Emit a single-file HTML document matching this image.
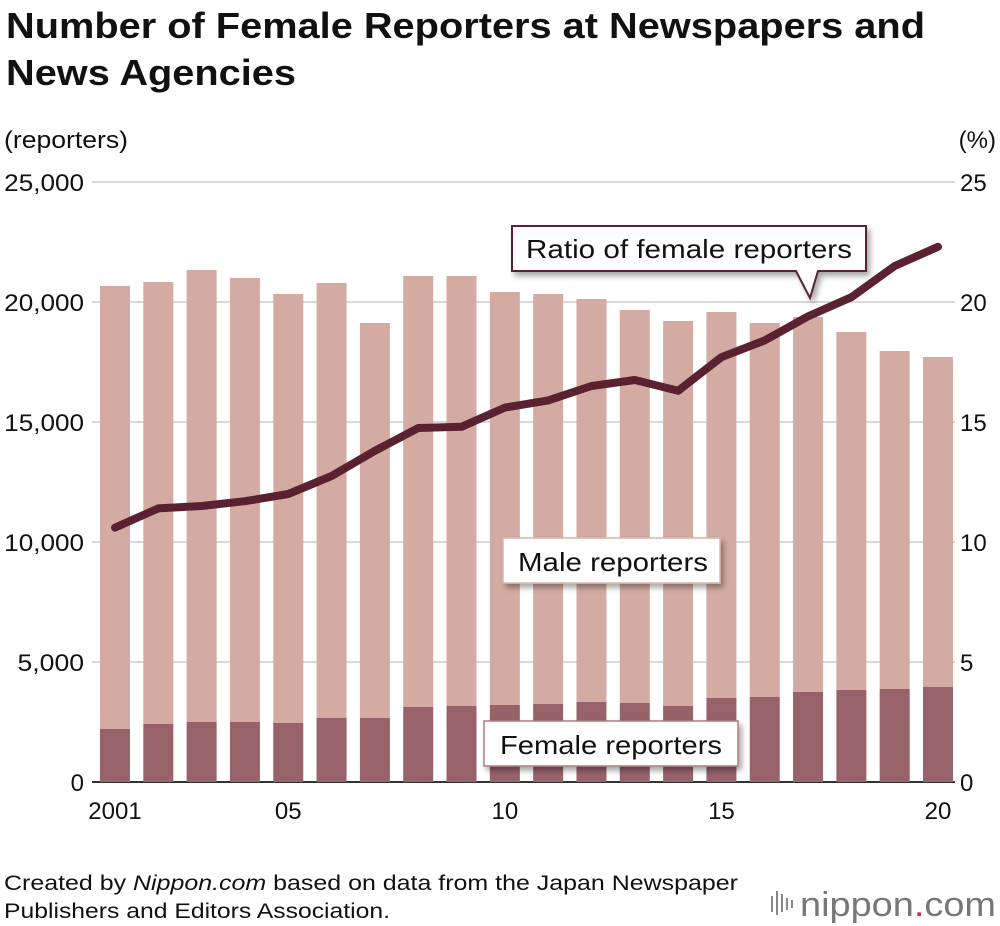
<!DOCTYPE html>
<html><head><meta charset="utf-8"><style>
body{margin:0;background:#fff;font-family:"Liberation Sans",sans-serif;}
#wrap{position:relative;width:1000px;height:926px;overflow:hidden;}
</style></head><body>
<div id="wrap">
<svg id="chart" width="1000" height="926" xmlns="http://www.w3.org/2000/svg">
<defs><filter id="sh" x="-10%" y="-20%" width="130%" height="160%"><feDropShadow dx="3" dy="4" stdDeviation="3" flood-color="#000" flood-opacity="0.35"/></filter></defs>
<text x="6" y="38" font-size="36" font-weight="bold" fill="#111" textLength="919" lengthAdjust="spacingAndGlyphs">Number of Female Reporters at Newspapers and</text>
<text x="6" y="85" font-size="36" font-weight="bold" fill="#111" textLength="290" lengthAdjust="spacingAndGlyphs">News Agencies</text>
<text x="4" y="148" font-size="24" fill="#111" textLength="124" lengthAdjust="spacingAndGlyphs">(reporters)</text>
<text x="996" y="148" font-size="24" fill="#111" text-anchor="end">(%)</text>
<g id="grid"></g><g id="bars"></g><g id="line"></g><g id="axes"></g><g id="labels"></g>
<text x="4" y="890" font-size="21" fill="#111" textLength="734" lengthAdjust="spacingAndGlyphs">Created by <tspan font-style="italic">Nippon.com</tspan> based on data from the Japan Newspaper</text>
<text x="4" y="918" font-size="21" fill="#111" textLength="386" lengthAdjust="spacingAndGlyphs">Publishers and Editors Association.</text>
<g>
<rect x="771" y="896" width="2" height="16" fill="#888"/><rect x="776" y="891" width="2" height="24" fill="#888"/><rect x="781" y="894" width="2" height="18" fill="#888"/><rect x="786" y="898" width="2" height="12" fill="#888"/><rect x="791" y="900" width="2" height="8" fill="#888"/>
<text x="800" y="916" font-size="34" fill="#777" textLength="196" lengthAdjust="spacingAndGlyphs">nippon<tspan fill="#e0262c">.</tspan>com</text></g>
</svg>
</div>
<script>
const years=["2001","2002","2003","2004","2005","2006","2007","2008","2009","2010","2011","2012","2013","2014","2015","2016","2017","2018","2019","2020"];
const totalReporters=[20667,20833,21333,21000,20333,20792,19125,21083,21083,20417,20333,20125,19667,19208,19583,19125,19375,18750,17958,17708];
const femaleReporters=[2208,2417,2500,2500,2458,2667,2667,3125,3167,3208,3250,3333,3292,3167,3500,3542,3750,3833,3875,3958];
const femaleRatio=[10.6,11.4,11.5,11.7,12.0,12.75,13.8,14.75,14.8,15.6,15.9,16.5,16.75,16.3,17.7,18.4,19.4,20.2,21.5,22.3];
const leftTicks=[0,5000,10000,15000,20000,25000];
const leftTickLabels=["0","5,000","10,000","15,000","20,000","25,000"];
const rightTickLabels=["0","5","10","15","20","25"];
const xTickLabels={"2001":"2001","2005":"05","2010":"10","2015":"15","2020":"20"};

const NS="http://www.w3.org/2000/svg";
const y0=782,yTop=182,x0=115,step=(938-115)/19,bw=30;
const yL=v=>y0-(v/25000)*(y0-yTop);
const yR=v=>y0-(v/25)*(y0-yTop);
const xC=i=>x0+i*step;
function mk(tag,attrs,parent){const e=document.createElementNS(NS,tag);for(const k in attrs)e.setAttribute(k,attrs[k]);parent.appendChild(e);return e;}
const g=id=>document.getElementById(id);

leftTicks.forEach((t,i)=>{
  const y=yL(t);
  const l=mk('line',{x1:92,x2:955,y1:y,y2:y,stroke:i==0?'#333':'#ccc','stroke-width':i==0?2:1.5},g('grid'));
  
  
  const a=mk('text',{x:84,y:y+9,'font-size':24,'text-anchor':'end',fill:'#111'},g('axes'));a.textContent=leftTickLabels[i];
  if(leftTickLabels[i].length>1){a.setAttribute('textLength',leftTickLabels[i].length*13.3);a.setAttribute('lengthAdjust','spacingAndGlyphs');}
  
  
  const b=mk('text',{x:960,y:y+9,'font-size':24,fill:'#111'},g('axes'));b.textContent=rightTickLabels[i];
  
  
});
years.forEach((yr,i)=>{
  const x=xC(i);
  const m=mk('rect',{x:x-bw/2,y:yL(totalReporters[i]),width:bw,height:yL(femaleReporters[i])-yL(totalReporters[i]),fill:'#d4aba2'},g('bars'));
  
  
  const f=mk('rect',{x:x-bw/2,y:yL(femaleReporters[i]),width:bw,height:y0-yL(femaleReporters[i]),fill:'#98626b'},g('bars'));
  
  
  if(xTickLabels[yr]){
    const t=mk('text',{x:x,y:819,'font-size':24,'text-anchor':'middle',fill:'#111'},g('axes'));t.textContent=xTickLabels[yr];
    
    
  }
});
const pl=mk('polyline',{points:femaleRatio.map((v,i)=>xC(i)+','+yR(v)).join(' '),fill:'none',stroke:'#5a2230','stroke-width':8,'stroke-linejoin':'round','stroke-linecap':'round'},g('line'));



const L=g('labels');
const c1=mk('path',{d:'M512,226 H866 V271 H818 L810,298 L796,271 H512 Z',fill:'#fff',stroke:'#5a2230','stroke-width':2,filter:'url(#sh)'},L);


const t1=mk('text',{x:526,y:258,'font-size':26,fill:'#111',textLength:326,lengthAdjust:'spacingAndGlyphs'},L);t1.textContent='Ratio of female reporters';


const c2=mk('rect',{x:503,y:538,width:217,height:45,fill:'#fff',stroke:'#d9b4ad','stroke-width':1.5,filter:'url(#sh)'},L);


const t2=mk('text',{x:518,y:571,'font-size':26,fill:'#111',textLength:190,lengthAdjust:'spacingAndGlyphs'},L);t2.textContent='Male reporters';


const c3=mk('rect',{x:484,y:721,width:254,height:45,fill:'#fff',stroke:'#b07a80','stroke-width':1.5,filter:'url(#sh)'},L);


const t3=mk('text',{x:500,y:754,'font-size':26,fill:'#111',textLength:222,lengthAdjust:'spacingAndGlyphs'},L);t3.textContent='Female reporters';


</script>
</body></html>
